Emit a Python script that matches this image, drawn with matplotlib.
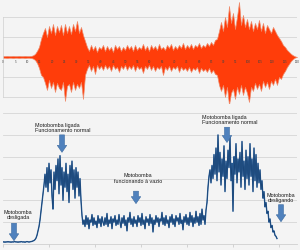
import numpy as np

import matplotlib
matplotlib.use('Agg')
import matplotlib.pyplot as plt
from matplotlib.patches import FancyArrow

plt.rcParams['font.family'] = ['Liberation Sans', 'DejaVu Sans']

# Top panel: audio waveform envelope (one sample every 2 px, 0..120 s)
wave_upper = [
    0.04, 0.04, 0.05, 0.04, 0.04, 0.05, 0.04, 0.04, 0.05, 0.04,
    0.04, 0.05, 0.04, 0.04, 0.05,
    0.08, 0.15, 0.3, 0.5, 0.9,
    1.2, 1.45, 1.0, 1.55, 1.2, 1.65, 1.1, 1.55, 1.25, 1.6,
    1.1, 1.65, 1.2, 1.55, 1.15, 1.65, 1.3, 1.8, 1.2, 1.5,
    1.1, 0.8,
    0.5, 0.3, 0.6, 0.35, 0.55, 0.25, 0.5, 0.4, 0.6, 0.3,
    0.55, 0.35, 0.5, 0.25, 0.6, 0.4, 0.55, 0.3, 0.5, 0.35,
    0.6, 0.4, 0.55, 0.3, 0.6, 0.35, 0.5, 0.4, 0.65, 0.35,
    0.55, 0.3, 0.6, 0.4, 0.55, 0.35, 0.65, 0.4, 0.5, 0.35,
    0.6, 0.45, 0.65, 0.35, 0.55, 0.4, 0.6, 0.45, 0.7, 0.4,
    0.6, 0.45, 0.65, 0.4, 0.6, 0.5, 0.7, 0.45, 0.6, 0.5,
    0.7, 0.55, 0.75, 0.6, 0.85,
    0.9, 1.3, 1.75, 1.3, 2.0, 1.5, 2.55, 1.7, 2.2, 1.4,
    2.0, 2.75, 1.6, 2.1, 1.5, 1.9, 1.4, 1.8, 1.3, 1.7,
    1.4, 1.85, 1.3, 1.7, 1.2, 1.6, 1.4, 1.2, 1.5, 1.3,
    1.1, 0.95, 0.8, 0.6, 0.5,
    0.35, 0.25, 0.15, 0.08, 0.03, 0.0,
]
wave_lower = [
    -0.04, -0.04, -0.05, -0.04, -0.04, -0.05, -0.04, -0.04, -0.05, -0.04,
    -0.04, -0.05, -0.04, -0.04, -0.05,
    -0.08, -0.15, -0.3, -0.55, -0.9,
    -1.0, -1.3, -1.65, -1.15, -1.55, -1.25, -1.75, -1.3, -1.55, -1.65,
    -1.25, -2.2, -1.45, -1.35, -1.75, -1.25, -1.65, -1.35, -1.55, -1.25,
    -2.1, -0.9,
    -0.6, -0.4, -0.7, -0.45, -0.85, -0.4, -0.6, -0.45, -0.65, -0.4,
    -0.6, -0.45, -0.7, -0.4, -0.6, -0.5, -0.75, -0.45, -0.6, -0.4,
    -0.65, -0.45, -0.6, -0.4, -0.7, -0.45, -0.6, -0.5, -0.8, -0.45,
    -0.6, -0.4, -0.65, -0.45, -0.7, -0.5, -0.6, -0.45, -0.9, -0.5,
    -0.65, -0.45, -0.7, -0.5, -0.6, -0.45, -0.75, -0.5, -0.65, -0.55,
    -0.7, -0.5, -0.75, -0.55, -0.65, -0.5, -0.8, -0.55, -0.7, -0.6,
    -0.75, -0.55, -0.8, -0.65, -0.85,
    -0.9, -1.4, -1.7, -1.4, -2.0, -1.5, -2.4, -1.8, -1.6, -2.1,
    -1.5, -1.85, -1.4, -1.9, -1.5, -1.8, -2.25, -1.5, -1.7, -1.3,
    -1.6, -1.35, -1.7, -1.2, -1.5, -1.25, -1.6, -1.2, -1.4, -1.1,
    -1.4, -1.0, -1.1, -0.85, -0.7,
    -0.5, -0.35, -0.2, -0.1, -0.03, 0.0,
]
wave_ticks = list(range(0, 121, 5))

# Bottom panel: measured signal, one sample per px
signal = [
    0.09, 0.1, 0.08, 0.1, 0.09, 0.11, 0.09, 0.1, 0.08, 0.1,
    0.09, 0.1, 0.11, 0.09, 0.1, 0.08, 0.1, 0.09, 0.11, 0.1,
    0.09, 0.1, 0.08, 0.1, 0.11, 0.1, 0.09,
    0.1, 0.11, 0.12, 0.14, 0.16, 0.2, 0.27, 0.4,
    0.6, 0.8, 1.1, 1.5, 1.9, 2.3, 2.7,
    3.2, 2.6, 3.5, 2.4, 3.7, 2.8, 3.4, 2.2, 1.6, 3.3,
    2.5, 3.6, 2.9, 3.9, 2.3, 4.05, 2.7, 3.5, 2.0, 3.3,
    2.6, 3.7, 2.4, 3.2, 1.9, 3.6, 2.8, 3.8, 2.5, 3.4,
    2.1, 3.5, 2.6, 3.3, 2.2, 3.0,
    2.0, 1.3, 0.9,
    1.1, 0.8, 1.3, 0.9, 1.2, 0.7, 1.1, 1.0, 1.35, 0.85,
    1.2, 0.9, 1.05, 0.75, 1.3, 0.95, 1.15, 0.8, 1.25, 1.0,
    0.85, 1.2, 0.9, 1.4, 0.8, 1.1, 0.95, 1.25, 0.7, 1.15,
    1.0, 1.3, 0.85, 1.1, 0.9, 1.35, 1.0, 0.75, 1.2, 0.95,
    1.3, 0.85, 1.1, 0.6, 1.2, 1.0, 1.45, 0.9, 1.15, 0.8,
    1.25, 0.95, 1.1, 0.8, 1.3, 1.0, 1.2, 0.85, 1.4, 0.9,
    1.1, 0.7, 1.25, 1.0, 1.15, 0.85, 1.35, 0.95, 1.2, 0.55,
    1.1, 0.9, 1.3, 1.0, 1.2, 0.8, 1.15, 1.05, 1.45, 0.9,
    1.2, 0.85, 1.3, 0.95, 1.1, 0.75, 1.25, 1.0, 1.35, 0.9,
    1.15, 0.8, 1.3, 1.05, 1.2, 0.9, 1.4, 0.95, 1.1, 0.65,
    1.25, 1.0, 1.35, 0.9, 1.2, 0.85, 1.45, 1.0, 1.3, 0.8,
    1.2, 0.95, 1.5, 1.0, 1.25, 0.85, 1.4, 0.9, 1.6, 1.1,
    1.3, 0.9, 1.55,
    1.9, 2.6, 3.1,
    3.4, 2.8, 3.6, 3.0, 4.1, 3.2, 4.4, 2.9, 5.0, 3.3,
    4.2, 2.7, 3.9, 3.1, 4.5, 2.4, 3.8, 3.0, 4.3, 3.5,
    4.9, 2.9, 3.7, 1.5, 4.0, 3.2, 4.6, 2.8, 3.9, 3.3,
    4.2, 2.6, 4.7, 3.1, 3.8, 2.5, 4.3, 3.0, 4.0, 2.7,
    4.6, 3.1, 3.9, 2.4, 4.4, 2.9, 4.1, 2.6, 3.7, 2.8,
    3.4, 2.5, 2.9, 2.1, 2.4, 1.7, 1.9, 1.4, 1.5, 1.0,
    1.15, 0.75, 0.85, 0.55, 0.6, 0.4, 0.35, 0.25,
]

# annotation texts, (x, y) of text centre and (x, y_tail, y_head) of arrow
notes = ["Motobomba\ndesligada",
         "Motobomba ligada\nFuncionamento normal",
         "Motobomba\nfuncionando à vazio",
         "Motobomba ligada\nFuncionamento normal",
         "Motobomba\ndesligando"]
note_xy = [(15, 1.38), (32, 5.37), (135, 3.05), (199, 5.73), (278, 2.16)]
note_ha = ['center', 'left', 'center', 'left', 'center']
arrow_xy = [(11, 0.95, 0.15), (59, 5.0, 4.2), (133, 2.42, 1.85),
            (224, 5.35, 4.65), (278, 1.8, 1.02)]

bg = '#f4f4f4'
grid_c = '#d6d6d6'

fig = plt.figure(figsize=(3, 2.51), dpi=100, facecolor=bg)

# ---- top: waveform
ax1 = fig.add_axes([0.01, 0.586, 0.98, 0.414], facecolor=bg)
t = np.linspace(0, 120, len(wave_upper))
ax1.fill_between(t, wave_lower, wave_upper, color='#ff3d0a', lw=0.5,
                 edgecolor='#ee8a6a', zorder=2)
ax1.set_xlim(0, 120)
ax1.set_ylim(-2.3, 2.9)
ax1.set_yticks([-2, -1, 0, 1, 2])
ax1.set_xticks([])
ax1.yaxis.grid(True, color=grid_c, lw=0.6)
ax1.tick_params(left=False, labelleft=False)
for s in ['top', 'right', 'bottom']:
    ax1.spines[s].set_visible(False)
ax1.spines['left'].set_color('#cfcfcf')
ax1.spines['left'].set_linewidth(0.5)
ax1.spines['left'].set_bounds(-2, 2)
for tk in wave_ticks:
    ax1.text(tk, -0.2, str(tk), fontsize=2.2, color='#444444',
             ha='center', va='center', zorder=5)

# ---- bottom: signal with annotations
ax2 = fig.add_axes([0.01, 0.0239, 0.98, 0.546], facecolor=bg)
ax2.plot(np.arange(len(signal)), signal, color='#2f66a3', lw=1.0, zorder=2)
ax2.plot(np.arange(len(signal)), signal, color='#163d6b', lw=0.45, zorder=3)
ax2.set_xlim(0, 294)
ax2.set_ylim(0, 6.28)
ax2.set_yticks([1, 2, 3, 4, 5, 6])
ax2.set_xticks(np.arange(0, 290, 46))
ax2.yaxis.grid(True, color=grid_c, lw=0.6)
ax2.tick_params(left=False, labelleft=False, labelbottom=False,
                length=2, width=0.5, color='#c4c4c4')
for s in ['top', 'right', 'left']:
    ax2.spines[s].set_visible(False)
ax2.spines['bottom'].set_color('#cfcfcf')
ax2.spines['bottom'].set_linewidth(0.6)

for txt, (x, y), ha in zip(notes, note_xy, note_ha):
    ax2.text(x, y, txt, fontsize=3.9, ha=ha, va='center', color='#1a1a1a',
             linespacing=1.15, zorder=6)

for x, y0, y1 in arrow_xy:
    ax2.add_patch(FancyArrow(x, y0, 0, y1 - y0, width=5, head_width=9.5,
                             head_length=0.32, length_includes_head=True,
                             fc='#4f81bd', ec='#3b6aa0', lw=0.4, zorder=6))

plt.savefig('out.png', dpi=100, facecolor=bg)
